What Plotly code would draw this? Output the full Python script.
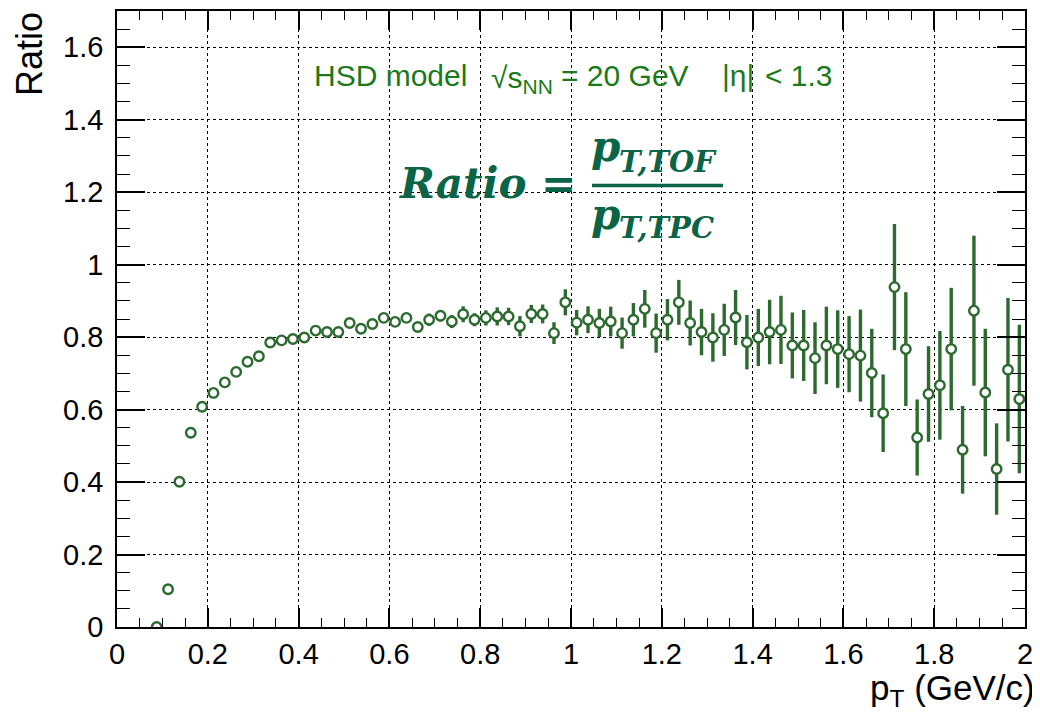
import plotly.graph_objects as go

pt = [0.0875, 0.1125, 0.1375, 0.1625, 0.1875, 0.2125, 0.2375, 0.2625, 0.2875, 0.3125,
      0.3375, 0.3625, 0.3875, 0.4125, 0.4375, 0.4625, 0.4875, 0.5125, 0.5375, 0.5625,
      0.5875, 0.6125, 0.6375, 0.6625, 0.6875, 0.7125, 0.7375, 0.7625, 0.7875, 0.8125,
      0.8375, 0.8625, 0.8875, 0.9125, 0.9375, 0.9625, 0.9875, 1.0125, 1.0375, 1.0625,
      1.0875, 1.1125, 1.1375, 1.1625, 1.1875, 1.2125, 1.2375, 1.2625, 1.2875, 1.3125,
      1.3375, 1.3625, 1.3875, 1.4125, 1.4375, 1.4625, 1.4875, 1.5125, 1.5375, 1.5625,
      1.5875, 1.6125, 1.6375, 1.6625, 1.6875, 1.7125, 1.7375, 1.7625, 1.7875, 1.8125,
      1.8375, 1.8625, 1.8875, 1.9125, 1.9375, 1.9625, 1.9875]

ratio = [0.0, 0.104, 0.401, 0.536, 0.608, 0.646, 0.675, 0.704, 0.732, 0.747,
         0.785, 0.791, 0.795, 0.799, 0.818, 0.814, 0.814, 0.839, 0.823, 0.836,
         0.853, 0.842, 0.853, 0.828, 0.848, 0.859, 0.843, 0.863, 0.848, 0.853,
         0.857, 0.857, 0.830, 0.864, 0.864, 0.811, 0.896, 0.840, 0.848, 0.839,
         0.843, 0.811, 0.848, 0.878, 0.811, 0.848, 0.896, 0.839, 0.814, 0.799,
         0.820, 0.854, 0.786, 0.799, 0.814, 0.820, 0.777, 0.777, 0.742, 0.777,
         0.767, 0.753, 0.749, 0.701, 0.590, 0.938, 0.767, 0.523, 0.643, 0.667,
         0.767, 0.489, 0.873, 0.647, 0.436, 0.710, 0.629]

ratio_err = [0.003, 0.003, 0.004, 0.005, 0.005, 0.005, 0.006, 0.006, 0.006, 0.007,
             0.007, 0.007, 0.008, 0.008, 0.009, 0.009, 0.010, 0.010, 0.011, 0.011,
             0.014, 0.014, 0.014, 0.012, 0.017, 0.016, 0.018, 0.022, 0.018, 0.021,
             0.025, 0.024, 0.028, 0.025, 0.026, 0.030, 0.036, 0.035, 0.037, 0.039,
             0.041, 0.043, 0.046, 0.052, 0.054, 0.057, 0.062, 0.062, 0.064, 0.067,
             0.072, 0.076, 0.075, 0.079, 0.089, 0.094, 0.091, 0.098, 0.099, 0.107,
             0.107, 0.105, 0.127, 0.122, 0.107, 0.174, 0.157, 0.105, 0.132, 0.150,
             0.169, 0.121, 0.207, 0.176, 0.126, 0.198, 0.205]

GREEN = "#2c6a2f"
TEXT_GREEN = "#1a7a1a"
FORMULA_GREEN = "#0c6446"
SANS = "Liberation Sans, Arial, Helvetica, sans-serif"
SERIF = "DejaVu Serif, serif"

# page geometry (the html body adds an 8px margin)
OFF = 8
PLOT_L, PLOT_R, PLOT_T, PLOT_B = 117, 1025, 11, 627


def px(X):
    return (X - PLOT_L) / (PLOT_R - PLOT_L)


def py(Y):
    return (PLOT_B - Y) / (PLOT_B - PLOT_T)


fig = go.Figure()
fig.add_trace(go.Scatter(
    x=pt, y=ratio,
    mode="markers",
    marker=dict(symbol="circle", size=9.5, color="white",
                line=dict(color=GREEN, width=2.4)),
    error_y=dict(type="data", array=ratio_err, visible=True,
                 color=GREEN, thickness=3.4, width=0),
    showlegend=False,
))

axis_common = dict(
    showline=True, linecolor="black", linewidth=1.5, mirror="ticks",
    ticks="inside", tickwidth=1.5, tickcolor="black",
    showgrid=True, gridcolor="black", griddash="dot", gridwidth=1.2,
    zeroline=False,
    tickfont=dict(family=SANS, size=29, color="black"),
)

fig.update_xaxes(range=[0, 2], dtick=0.2, tick0=0, ticklen=19,
                 minor=dict(ticks="inside", ticklen=9, tickwidth=1.2, tickcolor="black",
                            dtick=0.05, showgrid=False),
                 **axis_common)
fig.update_yaxes(range=[0, 1.7], dtick=0.2, tick0=0, ticklen=28, ticklabelstandoff=6,
                 minor=dict(ticks="inside", ticklen=13, tickwidth=1.2, tickcolor="black",
                            dtick=0.05, showgrid=False),
                 **axis_common)

fig.update_layout(
    width=1040 - OFF, height=715 - OFF,
    margin=dict(l=PLOT_L - OFF, r=1040 - PLOT_R, t=PLOT_T - OFF, b=715 - PLOT_B,
                autoexpand=False),
    paper_bgcolor="white", plot_bgcolor="white",
    font=dict(family=SANS),
)

# Axis titles
fig.add_annotation(text="Ratio", xref="paper", yref="paper", x=px(30), y=py(10),
                   xanchor="center", yanchor="top", textangle=-90, showarrow=False,
                   font=dict(size=36, color="black"))
fig.add_annotation(text="p<sub>T</sub> (GeV/c)", xref="paper", yref="paper",
                   x=px(1037), y=py(666), xanchor="right", yanchor="top", showarrow=False,
                   font=dict(size=35, color="black"))

# Model label (pieces positioned as in the original)
lab_font = dict(family=SANS, size=30, color=TEXT_GREEN)
for txt, xl, dy in [("HSD model", 312, 0), ("√s<sub>NN</sub>", 489, 4),
                    ("= 20 GeV", 559, 0), ("|η|", 720, 0), ("< 1.3", 763, 0)]:
    fig.add_annotation(text=txt, xref="paper", yref="paper", x=px(xl), y=py(75),
                       xanchor="left", yanchor="middle", yshift=-dy, showarrow=False,
                       font=lab_font)

# Formula  Ratio = p_T,TOF / p_T,TPC
big = dict(family=SERIF, size=42, color=FORMULA_GREEN)
small = dict(family=SERIF, size=29, color=FORMULA_GREEN)
fig.add_annotation(text="<b><i>Ratio =</i></b>", xref="paper", yref="paper",
                   x=px(578), y=py(183), xanchor="right", yanchor="middle",
                   showarrow=False, font=big)
fig.add_annotation(text="<b><i>p</i></b>", xref="paper", yref="paper",
                   x=px(589), y=py(147), xanchor="left", yanchor="middle",
                   showarrow=False, font=big)
fig.add_annotation(text="<b><i>T,TOF</i></b>", xref="paper", yref="paper",
                   x=px(617), y=py(162), xanchor="left", yanchor="middle",
                   showarrow=False, font=small)
fig.add_annotation(text="<b><i>p</i></b>", xref="paper", yref="paper",
                   x=px(589), y=py(214), xanchor="left", yanchor="middle",
                   showarrow=False, font=big)
fig.add_annotation(text="<b><i>T,TPC</i></b>", xref="paper", yref="paper",
                   x=px(617), y=py(228), xanchor="left", yanchor="middle",
                   showarrow=False, font=small)
fig.add_shape(type="line", xref="paper", yref="paper",
              x0=px(592), x1=px(723), y0=py(185.5), y1=py(185.5),
              line=dict(color=FORMULA_GREEN, width=3.5))

fig.write_html("out.html")
